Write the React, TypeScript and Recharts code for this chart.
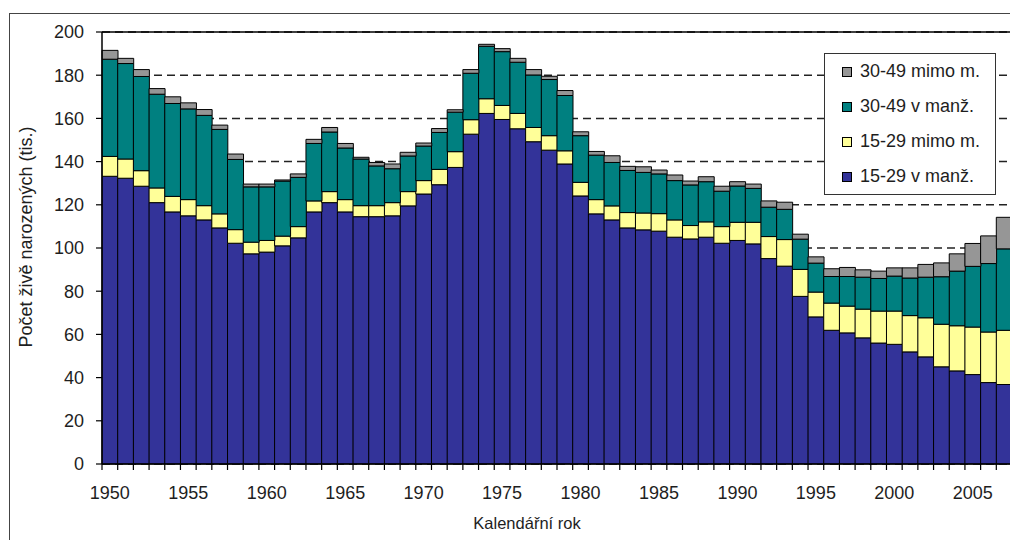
import { BarChart, Bar, XAxis, YAxis, CartesianGrid, ReferenceLine, Legend } from "recharts"

// birth counts (thousands) by mother's age group and marital status
const years = [
  1950, 1951, 1952, 1953, 1954, 1955, 1956, 1957, 1958, 1959,
  1960, 1961, 1962, 1963, 1964, 1965, 1966, 1967, 1968, 1969,
  1970, 1971, 1972, 1973, 1974, 1975, 1976, 1977, 1978, 1979,
  1980, 1981, 1982, 1983, 1984, 1985, 1986, 1987, 1988, 1989,
  1990, 1991, 1992, 1993, 1994, 1995, 1996, 1997, 1998, 1999,
  2000, 2001, 2002, 2003, 2004, 2005, 2006, 2007,
]

const young_married = [
  133.2, 132.3, 128.6, 121.0, 116.7, 114.9, 113.0, 109.3, 102.2, 97.3,
  98.1, 101.0, 104.7, 116.7, 121.0, 116.7, 114.5, 114.5, 114.9, 119.5,
  125.0, 129.3, 137.3, 152.7, 162.3, 159.5, 155.2, 149.2, 145.3, 138.9,
  124.1, 115.8, 113.0, 109.3, 108.4, 107.8, 105.0, 104.2, 105.0, 102.2,
  103.5, 101.9, 95.1, 91.6, 77.6, 68.1, 61.9, 60.7, 58.4, 56.0,
  55.4, 51.9, 49.6, 45.0, 43.1, 41.4, 37.7, 36.8,
]

const young_unmarried = [
  9.2, 8.9, 7.2, 6.8, 7.2, 7.5, 6.6, 6.5, 6.3, 5.4,
  5.4, 4.5, 5.2, 5.1, 5.1, 5.7, 5.1, 5.1, 6.1, 6.6,
  6.2, 7.1, 7.3, 6.7, 6.8, 6.5, 7.1, 6.6, 6.7, 6.1,
  6.3, 6.6, 6.5, 7.1, 7.8, 8.1, 8.0, 6.2, 7.1, 7.7,
  8.4, 10.0, 10.2, 12.3, 12.5, 11.5, 12.6, 12.4, 13.3, 14.8,
  15.4, 16.8, 18.1, 19.7, 20.9, 22.0, 23.4, 25.1,
]

const older_married = [
  45.0, 44.2, 43.6, 43.4, 43.0, 42.0, 41.8, 39.1, 32.5, 25.6,
  24.8, 25.5, 22.8, 26.6, 27.6, 23.9, 21.6, 18.4, 15.7, 16.5,
  16.0, 17.1, 18.3, 21.5, 24.3, 24.9, 23.7, 24.3, 26.0, 25.6,
  21.6, 20.6, 20.1, 19.5, 18.8, 18.4, 18.2, 18.8, 18.6, 16.4,
  16.8, 15.7, 13.6, 14.0, 14.0, 13.4, 12.3, 13.7, 14.8, 15.1,
  16.2, 17.4, 18.8, 22.0, 25.3, 28.1, 31.7, 37.7,
]

const older_unmarried = [
  4.1, 2.4, 3.2, 2.6, 3.1, 2.8, 2.7, 2.0, 2.5, 1.3,
  1.3, 0.5, 1.6, 1.9, 2.1, 2.1, 0.8, 1.6, 2.2, 1.7,
  1.4, 1.8, 1.1, 1.7, 0.9, 1.4, 1.8, 2.5, 1.5, 2.3,
  1.8, 1.7, 3.1, 1.9, 2.6, 1.8, 2.6, 1.8, 2.3, 2.3,
  2.0, 2.0, 2.9, 3.3, 2.3, 2.9, 3.6, 4.2, 3.4, 3.4,
  3.8, 4.7, 5.9, 6.4, 8.0, 10.6, 12.8, 14.6,
]

const yTicks = [0, 20, 40, 60, 80, 100, 120, 140, 160, 180, 200]

// top-to-bottom order of the legend
const legendOrder = ["ou", "om", "yu", "ym"]

const data = years.map((year, i) => ({
  year,
  ym: young_married[i],
  yu: young_unmarried[i],
  om: older_married[i],
  ou: older_unmarried[i],
}))

const FONT = "'Liberation Sans', Arial, sans-serif"
const TEXT = "#1e1e1e"
const PLOT_LEFT = 102
const CHART_W = 1012
const STEP = (CHART_W - PLOT_LEFT) / years.length

function YearTick(props: any) {
  const { x, y, payload } = props
  const year = payload.value
  const edge = x - STEP / 2
  return (
    <g>
      <line x1={edge} x2={edge} y1={y} y2={y + 6} stroke="#000" strokeWidth={1.2} />
      {year % 5 === 0 && (
        <text x={x} y={y + 35} textAnchor="middle" fontSize={18} fill={TEXT} fontFamily={FONT}>
          {year}
        </text>
      )}
    </g>
  )
}

function LegendBox(props: any) {
  const items = [...(props.payload || [])].sort(
    (a: any, b: any) => legendOrder.indexOf(a.dataKey) - legendOrder.indexOf(b.dataKey)
  )
  return (
    <div
      style={{
        border: "1.5px solid #333",
        background: "#fff",
        width: 172,
        boxSizing: "border-box",
        fontFamily: FONT,
        fontSize: 18,
        color: TEXT,
      }}
    >
      {items.map((it: any) => (
        <div key={it.value} style={{ height: 35, display: "flex", alignItems: "center" }}>
          <span
            style={{
              display: "inline-block",
              width: 8,
              height: 8,
              background: it.color,
              border: "1px solid #000",
              marginLeft: 17,
              marginRight: 8,
            }}
          />
          {it.value}
        </div>
      ))}
    </div>
  )
}

export default function App() {
  return (
    <div
      style={{
        position: "absolute",
        left: 0,
        top: 0,
        width: 1010,
        height: 540,
        overflow: "hidden",
        background: "#fff",
        fontFamily: FONT,
      }}
    >
      <div
        style={{
          position: "absolute",
          left: 9,
          top: 13,
          width: 1200,
          height: 700,
          border: "1.5px solid #444",
        }}
      />
      <div style={{ position: "absolute", left: 0, top: 0 }}>
        <BarChart
          width={CHART_W}
          height={540}
          data={data}
          margin={{ top: 32, right: 0, bottom: 0, left: 0 }}
          barCategoryGap={0}
          barGap={0}
        >
          <CartesianGrid vertical={false} stroke="#222" strokeDasharray="8 5" strokeWidth={1.5} />
          <XAxis
            dataKey="year"
            interval={0}
            height={76}
            tickSize={0}
            tickMargin={0}
            tickLine={false}
            axisLine={{ stroke: "#000", strokeWidth: 1.5 }}
            tick={<YearTick />}
            label={{
              content: () => (
                <text x={527} y={529} textAnchor="middle" fontSize={16.5} fill={TEXT} fontFamily={FONT}>
                  Kalendářní rok
                </text>
              ),
            }}
          />
          <YAxis
            width={PLOT_LEFT}
            domain={[0, 200]}
            ticks={yTicks}
            tickSize={6}
            tickMargin={12}
            axisLine={{ stroke: "#000", strokeWidth: 1.5 }}
            tickLine={{ stroke: "#000", strokeWidth: 1.2 }}
            tick={{ fontSize: 18, fill: TEXT, fontFamily: FONT }}
            label={{
              content: (p: any) => {
                const vb = p.viewBox
                const cx = vb.x + 26
                const cy = vb.y + vb.height / 2 - 11
                return (
                  <text
                    x={cx}
                    y={cy}
                    transform={`rotate(-90 ${cx} ${cy})`}
                    textAnchor="middle"
                    dominantBaseline="central"
                    fontSize={18}
                    fill={TEXT}
                    fontFamily={FONT}
                  >
                    Počet živě narozených (tis.)
                  </text>
                )
              },
            }}
          />
          <ReferenceLine y={200} stroke="#000" strokeWidth={1.5} />
          <Legend
            layout="vertical"
            align="center"
            verticalAlign="middle"
            content={<LegendBox />}
            wrapperStyle={{ position: "absolute", left: 824, top: 53, width: 172, height: "auto" }}
          />
          <Bar dataKey="ym" name="15-29 v manž." stackId="a" fill="#333399" stroke="#000" strokeWidth={1} isAnimationActive={false} />
          <Bar dataKey="yu" name="15-29 mimo m." stackId="a" fill="#ffff99" stroke="#000" strokeWidth={1} isAnimationActive={false} />
          <Bar dataKey="om" name="30-49 v manž." stackId="a" fill="#008080" stroke="#000" strokeWidth={1} isAnimationActive={false} />
          <Bar dataKey="ou" name="30-49 mimo m." stackId="a" fill="#969696" stroke="#000" strokeWidth={1} isAnimationActive={false} />
        </BarChart>
      </div>
    </div>
  )
}
